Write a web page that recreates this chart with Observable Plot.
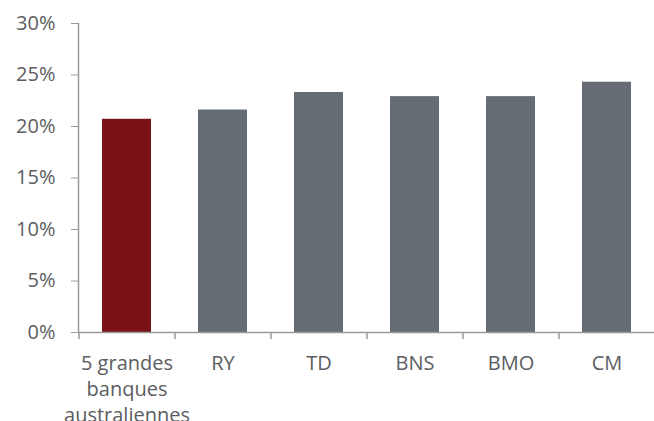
<!DOCTYPE html>
<html><head><meta charset="utf-8">
<script src="https://cdn.jsdelivr.net/npm/d3@7"></script>
<script src="https://cdn.jsdelivr.net/npm/@observablehq/plot@0.6"></script>
<style>body{margin:0;background:#fff}</style>
</head><body><div id="chart"></div>
<script>
const categories = ["5 grandes\nbanques\naustraliennes", "RY", "TD", "BNS", "BMO", "CM"];
const values = [0.207, 0.216, 0.233, 0.229, 0.229, 0.243];
const highlight = [true, false, false, false, false, false];
const yTicks = [0, 0.05, 0.10, 0.15, 0.20, 0.25, 0.30];

const data = categories.map((c, i) => ({category: c, value: values[i], highlight: highlight[i]}));
const W = 654, H = 421, mL = 78, mR = 0;
const halfBand = (W - mL - mR) / categories.length / 2;
const axisColor = "#9a9a9a";
const textColor = "#5c5d5f";

const chart = Plot.plot({
  width: W, height: H, marginLeft: mL, marginRight: mR, marginTop: 23, marginBottom: 89,
  style: {fontFamily: "'Open Sans', sans-serif", fontSize: "20px", color: textColor, background: "#fff"},
  x: {domain: categories, paddingInner: 0.49, paddingOuter: 0.245, axis: null, label: null},
  y: {domain: [0, 0.3], axis: null, label: null},
  color: {domain: [true, false], range: ["#7A1318", "#656C73"]},
  marks: [
    Plot.barY(data, {x: "category", y: "value", fill: "highlight"}),
    Plot.ruleY([0], {stroke: axisColor, strokeWidth: 1.5}),
    Plot.frame({anchor: "left", stroke: axisColor, strokeWidth: 1.5}),
    Plot.axisY({ticks: yTicks, tickFormat: d3.format(".0%"), tickSize: 7, tickPadding: 16, stroke: axisColor, fill: textColor, label: null}),
    Plot.axisX({tickSize: 0, tickPadding: 19, lineHeight: 1.3, fill: textColor, label: null}),
    Plot.axisX({tickSize: 7, text: null, dx: -halfBand, stroke: axisColor, strokeWidth: 1.5, label: null})
  ]
});
document.getElementById("chart").appendChild(chart);
</script>
</body></html>
